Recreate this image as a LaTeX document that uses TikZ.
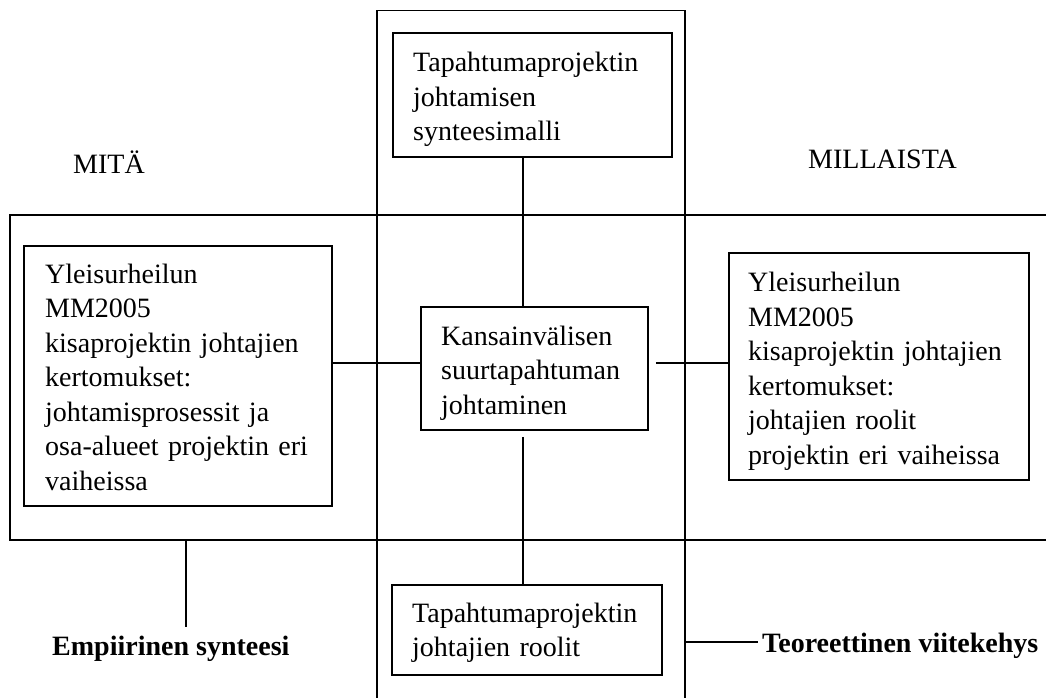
\documentclass[tikz,border=0pt]{standalone}
\usepackage{fontspec}
\setmainfont{Liberation Serif}
\begin{document}
\begin{tikzpicture}[x=1pt,y=-1pt,
  bandline/.style={line width=1.8pt},
  box/.style={draw,line width=1.8pt,inner sep=0pt},
  boxtext/.style={anchor=base west,inner sep=0pt,text width=300pt,align=left,
    font=\fontsize{28}{34.5}\selectfont},
  plainlabel/.style={anchor=base west,inner sep=0pt,font=\fontsize{28}{34}\selectfont},
  link/.style={line width=1.8pt}]
\useasboundingbox (0,0) rectangle (1046,698);

% the two crossing bands
\draw[bandline] (377,700) -- (377,10.5) -- (685,10.5) -- (685,700);
\draw[bandline] (1046,215) -- (10,215) -- (10,540) -- (1046,540);

% boxes
\node[box,minimum width=279pt,minimum height=124pt] (topbox)   at (532.5,95)  {};
\node[box,minimum width=308pt,minimum height=260pt] (leftbox)  at (178,376)   {};
\node[box,minimum width=227pt,minimum height=123pt] (midbox)   at (534.5,368.5) {};
\node[box,minimum width=300pt,minimum height=227pt] (rightbox) at (879,366.5) {};
\node[box,minimum width=270pt,minimum height=90pt]  (botbox)   at (527,630)   {};

% box texts
\node[boxtext] (topText) at (413,71.7) {Tapahtumaprojektin\\johtamisen\\synteesimalli};
\node[boxtext] (leftText) at (45,283.3) {Yleisurheilun\\MM2005\\kisaprojektin johtajien\\kertomukset:\\johtamisprosessit ja\\osa-alueet projektin eri\\vaiheissa};
\node[boxtext] (midText) at (441,345) {Kansainvälisen\\suurtapahtuman\\johtaminen};
\node[boxtext] (rightText) at (748,291.7) {Yleisurheilun\\MM2005\\kisaprojektin johtajien\\kertomukset:\\johtajien roolit\\projektin eri vaiheissa};
\node[boxtext] (botText) at (412,622) {Tapahtumaprojektin\\johtajien roolit};

% connectors between boxes
\coordinate (vx) at (523,0);
\coordinate (hy) at (0,363);
\draw[link] (topbox.south -| vx) -- (midbox.north -| vx);
\draw[link,shorten <=6pt] (midbox.south -| vx) -- (botbox.north -| vx);
\draw[link] (leftbox.east |- hy) -- (midbox.west |- hy);
\draw[link,shorten <=7pt] (midbox.east |- hy) -- (rightbox.west |- hy);

% headings
\node[plainlabel] (mita) at (73,173) {MITÄ};
\node[plainlabel] (millaista) at (808,168) {MILLAISTA};

% band captions
\node[plainlabel,font=\fontsize{28}{34}\selectfont\bfseries] (emp) at (52,655) {Empiirinen synteesi};
\coordinate (empTop) at (186,540);
\coordinate (empEnd) at (186,627);
\draw[link] (empTop) -- (empEnd);

\node[plainlabel,inner xsep=4pt,font=\fontsize{28}{34}\selectfont\bfseries] (teo) at (758,652) {Teoreettinen viitekehys};
\coordinate (teoStart) at (685,642);
\draw[link] (teoStart) -- (teo.west |- teoStart);
\end{tikzpicture}
\end{document}
